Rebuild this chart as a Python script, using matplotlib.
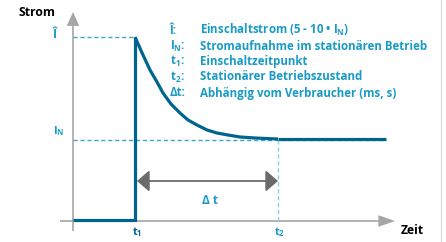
import matplotlib
matplotlib.use("Agg")
import matplotlib.pyplot as plt

# ---- data (schematic units: x = time, y = current) ----
t1 = 62
t2 = 205
t_end = 313
i_peak = 184
i_n = 81
i_base = 1
curve_t = [62, 70, 77, 84, 90, 98, 107, 115, 124, 134, 144, 155, 167, 182, 197, 205]
curve_i = [184, 166, 151, 139, 128, 117, 108, 101, 96, 91, 88, 86, 84, 83, 82.3, 82]
steady_i = 82

legend_symbols = [r"Î:", r"I$_\mathrm{N}$:", r"t$_\mathrm{1}$:", r"t$_\mathrm{2}$:", r"Δt:"]
legend_texts = [r"Einschaltstrom (5 - 10 • I$_\mathrm{N}$)",
                "Stromaufnahme im stationären Betrieb",
                "Einschaltzeitpunkt",
                "Stationärer Betriebszustand",
                "Abhängig vom Verbraucher (ms, s)"]

FONT = "Open Sans"
plt.rcParams["font.family"] = [FONT, "DejaVu Sans"]
plt.rcParams["mathtext.fontset"] = "custom"
plt.rcParams["mathtext.rm"] = FONT + ":bold"
plt.rcParams["mathtext.it"] = FONT + ":bold"
plt.rcParams["mathtext.bf"] = FONT + ":bold"

DARK = "#00658e"
BLUE = "#1a9bc6"
DASH = "#3aa8cb"
LIGHTDASH = "#8fcde2"
AXIS = "#a6a6a6"
ARROW = "#6b6b6b"

fig = plt.figure(figsize=(4.46, 2.42), dpi=100)
ax = fig.add_axes([0, 0, 1, 1])
ax.set_xlim(-73, 373)
ax.set_ylim(-21, 221)
ax.axis("off")

# right border
ax.plot([368, 368], [-21, 221], color="#dcdcdc", lw=1)

# axes with arrows
ax.plot([0, 0], [-10, 200], color=AXIS, lw=1.2, solid_capstyle="butt")
ax.annotate("", xy=(0, 209), xytext=(0, 195),
            arrowprops=dict(arrowstyle="-|>,head_length=1.0,head_width=0.45",
                            color=AXIS, lw=0, shrinkA=0, shrinkB=0))
ax.plot([-13, 310], [0, 0], color=AXIS, lw=1.2, solid_capstyle="butt")
ax.annotate("", xy=(322, 0), xytext=(305, 0),
            arrowprops=dict(arrowstyle="-|>,head_length=1.2,head_width=0.42",
                            color=AXIS, lw=0, shrinkA=0, shrinkB=0))

# dashed reference lines
ax.plot([0, t1], [i_peak, i_peak], color=DASH, lw=1, dashes=(3, 2))
ax.plot([0, t_end], [i_n, i_n], color=DASH, lw=1, dashes=(3, 2))
ax.plot([t2, t2], [i_n, 0], color=LIGHTDASH, lw=1, dashes=(3, 2))

# current curve
ax.plot([0, t1, t1], [i_base, i_base, i_peak], color=DARK, lw=2.3,
        solid_joinstyle="miter", solid_capstyle="butt")
ax.plot(curve_t, curve_i, color=DARK, lw=2.3, solid_capstyle="butt")
ax.plot([t2, t_end], [steady_i, steady_i], color=DARK, lw=2.3, solid_capstyle="butt")

# delta t arrow
ax.annotate("", xy=(t1 + 2, 40), xytext=(t2, 40),
            arrowprops=dict(arrowstyle="<|-|>,head_length=0.75,head_width=0.65",
                            color=ARROW, lw=1.3, shrinkA=0, shrinkB=0))
ax.text(137, 20, "Δ t", color=BLUE, fontsize=8.5, fontweight="bold",
        ha="center", va="center")

# axis labels
ax.text(-36, 208, "Strom", color="black", fontsize=8.8, fontweight="bold",
        ha="center", va="center")
ax.text(339, -10, "Zeit", color="black", fontsize=8.8, fontweight="bold",
        ha="center", va="center")
ax.text(-18, 187, "Î", color=BLUE, fontsize=9, fontweight="bold",
        ha="center", va="center")
ax.text(-14, 90, r"I$_\mathrm{N}$", color=BLUE, fontsize=8, fontweight="bold",
        ha="center", va="center")
ax.text(t1 + 2, -11, r"t$_\mathrm{1}$", color=DARK, fontsize=8, fontweight="bold",
        ha="center", va="center")
ax.text(t2 + 2, -11, r"t$_\mathrm{2}$", color=BLUE, fontsize=8, fontweight="bold",
        ha="center", va="center")

# legend
leg_y = [191, 175, 160, 144, 128]
for sym, txt, y in zip(legend_symbols, legend_texts, leg_y):
    ax.text(97, y, sym, color=BLUE, fontsize=8.3, fontweight="bold",
            ha="left", va="center")
    ax.text(127, y, txt, color=BLUE, fontsize=8.3, fontweight="bold",
            ha="left", va="center")

fig.savefig("out.png", dpi=100)
